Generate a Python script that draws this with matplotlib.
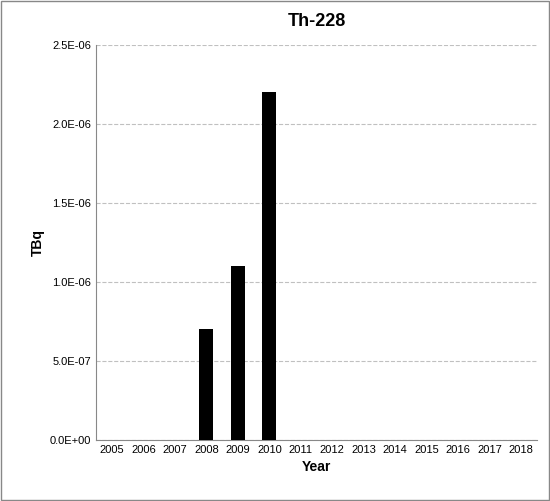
import numpy as np
import matplotlib.pyplot as plt

years = [str(y) for y in range(2005, 2019)]
values = [0, 0, 0, 7.0e-7, 1.1e-6, 2.2e-6, 0, 0, 0, 0, 0, 0, 0, 0]
yticks = [0, 5e-7, 1e-6, 1.5e-6, 2e-6, 2.5e-6]
ytick_labels = ["0.0E+00", "5.0E-07", "1.0E-06", "1.5E-06", "2.0E-06", "2.5E-06"]

plt.rcParams["font.family"] = ["Liberation Sans", "DejaVu Sans"]

fig = plt.figure(figsize=(5.5, 5.01), dpi=100)
fig.patches.append(plt.Rectangle((0.001, 0.001), 0.997, 0.997, transform=fig.transFigure,
                                 fill=False, edgecolor="#888888", linewidth=1))
ax = fig.add_axes([0.175, 0.122, 0.801, 0.788])

x = np.arange(len(years))
ax.bar(x, values, width=0.45, color="black", zorder=3)
ax.set_xlim(-0.5, len(years) - 0.5)
ax.set_ylim(0, 2.5e-6)
ax.set_xticks(x)
ax.set_xticklabels(years, fontsize=8)
ax.set_yticks(yticks)
ax.set_yticklabels(ytick_labels, fontsize=8)
ax.yaxis.grid(True, linestyle="--", color="#c0c0c0", linewidth=0.8, zorder=0)
ax.tick_params(axis="y", length=0)
ax.tick_params(axis="x", length=0)
for s in ["top", "right"]:
    ax.spines[s].set_visible(False)
ax.spines["left"].set_color("#888888")
ax.spines["bottom"].set_color("#888888")
ax.set_xlabel("Year", fontsize=10, fontweight="bold")
ax.set_ylabel("TBq", fontsize=10, fontweight="bold")
ax.set_title("Th-228", fontsize=13, fontweight="bold", pad=14)

fig.savefig("out.png", dpi=100)
